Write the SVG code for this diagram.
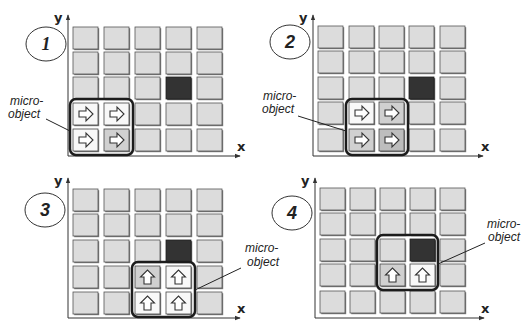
<svg xmlns="http://www.w3.org/2000/svg" xmlns:xlink="http://www.w3.org/1999/xlink" width="525" height="323" viewBox="0 0 525 323">
<style>
.ax{stroke:#333;stroke-width:1;fill:none}
.axl{font-family:"DejaVu Sans",sans-serif;font-weight:bold;font-size:13px;fill:#222}
.num{font-family:"Liberation Sans",sans-serif;font-style:italic;font-weight:bold;font-size:18px;fill:#222}
.lbl{font-family:"Liberation Sans",sans-serif;font-style:italic;font-size:12px;fill:#222}
.mo{fill:none;stroke:#1c1c1c;stroke-width:2.5}
.ld{stroke:#222;stroke-width:1;fill:none}
.circ{fill:#fff;stroke:#333;stroke-width:1}
.arw{fill:#fff;stroke:#333;stroke-width:1.1;stroke-linejoin:miter}
</style>
<defs>
<marker id="ah" viewBox="0 0 8 8" refX="7" refY="4" markerWidth="6" markerHeight="6" orient="auto" markerUnits="userSpaceOnUse">
<path d="M0,1 L8,4 L0,7 Z" fill="#333"/>
</marker>
<g id="c"><rect x="1.2" y="1.2" width="25" height="22" fill="#7a7a7a"/><rect width="25" height="22" fill="#dcdcdc" stroke="#555" stroke-width="0.8"/></g>
<g id="cw"><rect x="1.2" y="1.2" width="25" height="22" fill="#7a7a7a"/><rect width="25" height="22" fill="#f8f8f8" stroke="#444" stroke-width="0.8"/></g>
<g id="cg"><rect x="1.2" y="1.2" width="25" height="22" fill="#7a7a7a"/><rect width="25" height="22" fill="#d0d0d0" stroke="#444" stroke-width="0.8"/></g>
<g id="cg2"><rect x="1.2" y="1.2" width="25" height="22" fill="#7a7a7a"/><rect width="25" height="22" fill="#bdbdbd" stroke="#444" stroke-width="0.8"/></g>
<g id="cd"><rect x="1.2" y="1.2" width="25" height="22" fill="#555"/><rect width="25" height="22" fill="#333" stroke="#222" stroke-width="0.8"/></g>
<path id="ar" class="arw" d="M6,8 H13 V4 L20,11 L13,18 V14 H6 Z"/>
<path id="au" class="arw" d="M9,18 V11 H5.5 L12.5,4 L19.5,11 H16 V18 Z"/>
</defs>

<g id="panel1">
<ellipse class="circ" cx="46" cy="44" rx="20" ry="17"/>
<text class="num" x="46" y="50" text-anchor="middle" style="font-family:'Liberation Serif',serif">1</text>
<path class="ax" d="M68,156 V15" marker-end="url(#ah)"/>
<path class="ax" d="M68,156 H240" marker-end="url(#ah)"/>
<text class="axl" x="54" y="22">y</text>
<text class="axl" x="237" y="151">x</text>
<use href="#c" x="73" y="27"/><use href="#c" x="104" y="27"/><use href="#c" x="135" y="27"/><use href="#c" x="166" y="27"/><use href="#c" x="197" y="27"/>
<use href="#c" x="73" y="52"/><use href="#c" x="104" y="52"/><use href="#c" x="135" y="52"/><use href="#c" x="166" y="52"/><use href="#c" x="197" y="52"/>
<use href="#c" x="73" y="77"/><use href="#c" x="104" y="77"/><use href="#c" x="135" y="77"/><use href="#cd" x="166" y="77"/><use href="#c" x="197" y="77"/>
<use href="#cw" x="73" y="103"/><use href="#cw" x="104" y="103"/><use href="#c" x="135" y="103"/><use href="#c" x="166" y="103"/><use href="#c" x="197" y="103"/>
<use href="#cw" x="73" y="129"/><use href="#cg" x="104" y="129"/><use href="#c" x="135" y="129"/><use href="#c" x="166" y="129"/><use href="#c" x="197" y="129"/>
<use href="#ar" x="73" y="103"/><use href="#ar" x="104" y="103"/><use href="#ar" x="73" y="129"/><use href="#ar" x="104" y="129"/>
<rect class="mo" x="70" y="99" width="63" height="56" rx="6"/>
<text class="lbl" x="10" y="105">micro-</text>
<text class="lbl" x="8" y="118">object</text>
</g>

<g id="panel2">
<ellipse class="circ" cx="290" cy="42" rx="20" ry="17"/>
<text class="num" x="290" y="48" text-anchor="middle">2</text>
<path class="ax" d="M313,156 V15" marker-end="url(#ah)"/>
<path class="ax" d="M313,156 H483" marker-end="url(#ah)"/>
<text class="axl" x="299" y="22">y</text>
<text class="axl" x="481" y="151">x</text>
<use href="#c" x="318" y="26"/><use href="#c" x="349" y="26"/><use href="#c" x="379" y="26"/><use href="#c" x="409" y="26"/><use href="#c" x="440" y="26"/>
<use href="#c" x="318" y="51"/><use href="#c" x="349" y="51"/><use href="#c" x="379" y="51"/><use href="#c" x="409" y="51"/><use href="#c" x="440" y="51"/>
<use href="#c" x="318" y="77"/><use href="#c" x="349" y="77"/><use href="#c" x="379" y="77"/><use href="#cd" x="409" y="77"/><use href="#c" x="440" y="77"/>
<use href="#c" x="318" y="102"/><use href="#cw" x="349" y="102"/><use href="#cg" x="379" y="102"/><use href="#c" x="409" y="102"/><use href="#c" x="440" y="102"/>
<use href="#c" x="318" y="129"/><use href="#cg" x="349" y="129"/><use href="#cg2" x="379" y="129"/><use href="#c" x="409" y="129"/><use href="#c" x="440" y="129"/>
<use href="#ar" x="349" y="102"/><use href="#ar" x="379" y="102"/><use href="#ar" x="349" y="129"/><use href="#ar" x="379" y="129"/>
<rect class="mo" x="346" y="99" width="62" height="56" rx="6"/>
<text class="lbl" x="263" y="100">micro-</text>
<text class="lbl" x="262" y="113">object</text>
</g>

<g id="panel3">
<ellipse class="circ" cx="45" cy="210" rx="20" ry="17"/>
<text class="num" x="45" y="216" text-anchor="middle">3</text>
<path class="ax" d="M68,318 V178" marker-end="url(#ah)"/>
<path class="ax" d="M68,318 H240" marker-end="url(#ah)"/>
<text class="axl" x="54" y="185">y</text>
<text class="axl" x="237" y="313">x</text>
<use href="#c" x="73" y="189"/><use href="#c" x="104" y="189"/><use href="#c" x="135" y="189"/><use href="#c" x="166" y="189"/><use href="#c" x="197" y="189"/>
<use href="#c" x="73" y="214"/><use href="#c" x="104" y="214"/><use href="#c" x="135" y="214"/><use href="#c" x="166" y="214"/><use href="#c" x="197" y="214"/>
<use href="#c" x="73" y="240"/><use href="#c" x="104" y="240"/><use href="#c" x="135" y="240"/><use href="#cd" x="166" y="240"/><use href="#c" x="197" y="240"/>
<use href="#c" x="73" y="266"/><use href="#c" x="104" y="266"/><use href="#cg" x="135" y="266"/><use href="#cw" x="166" y="266"/><use href="#c" x="197" y="266"/>
<use href="#c" x="73" y="292"/><use href="#c" x="104" y="292"/><use href="#cw" x="135" y="292"/><use href="#cw" x="166" y="292"/><use href="#c" x="197" y="292"/>
<use href="#au" x="135" y="266"/><use href="#au" x="166" y="266"/><use href="#au" x="135" y="292"/><use href="#au" x="166" y="292"/>
<rect class="mo" x="132" y="262" width="63" height="55" rx="6"/>
<text class="lbl" x="245" y="252">micro-</text>
<text class="lbl" x="247" y="266">object</text>
</g>

<g id="panel4">
<ellipse class="circ" cx="292" cy="213" rx="20" ry="17"/>
<text class="num" x="292" y="219" text-anchor="middle">4</text>
<path class="ax" d="M315,318 V178" marker-end="url(#ah)"/>
<path class="ax" d="M315,318 H484" marker-end="url(#ah)"/>
<text class="axl" x="301" y="185">y</text>
<text class="axl" x="481" y="313">x</text>
<use href="#c" x="320" y="188"/><use href="#c" x="350" y="188"/><use href="#c" x="380" y="188"/><use href="#c" x="410" y="188"/><use href="#c" x="440" y="188"/>
<use href="#c" x="320" y="213"/><use href="#c" x="350" y="213"/><use href="#c" x="380" y="213"/><use href="#c" x="410" y="213"/><use href="#c" x="440" y="213"/>
<use href="#c" x="320" y="239"/><use href="#c" x="350" y="239"/><use href="#c" x="380" y="239"/><use href="#cd" x="410" y="239"/><use href="#c" x="440" y="239"/>
<use href="#c" x="320" y="264"/><use href="#c" x="350" y="264"/><use href="#cg" x="380" y="264"/><use href="#cw" x="410" y="264"/><use href="#c" x="440" y="264"/>
<use href="#c" x="320" y="291"/><use href="#c" x="350" y="291"/><use href="#c" x="380" y="291"/><use href="#c" x="410" y="291"/><use href="#c" x="440" y="291"/>
<use href="#au" x="380" y="264"/><use href="#au" x="410" y="264"/>
<rect class="mo" x="377" y="235" width="61" height="55" rx="6"/>
<text class="lbl" x="487" y="228">micro-</text>
<text class="lbl" x="488" y="241">object</text>
</g>

<g id="connectors">
<line class="ld" x1="46" y1="119" x2="70" y2="131"/>
<line class="ld" x1="298" y1="116" x2="346" y2="131"/>
<line class="ld" x1="241" y1="268" x2="195" y2="290"/>
<line class="ld" x1="485" y1="243" x2="438" y2="264"/>
</g>
</svg>
